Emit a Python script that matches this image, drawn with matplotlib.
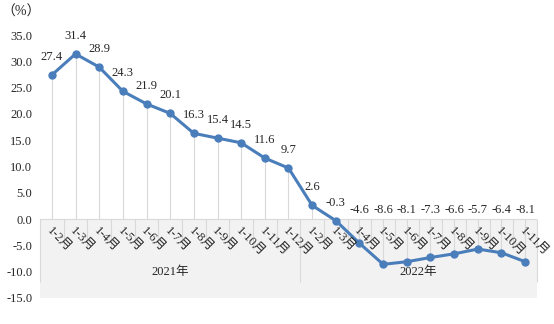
import matplotlib
matplotlib.use("Agg")
import matplotlib.pyplot as plt
import numpy as np

months = ["1-2月", "1-3月", "1-4月", "1-5月", "1-6月", "1-7月", "1-8月", "1-9月",
          "1-10月", "1-11月", "1-12月",
          "1-2月", "1-3月", "1-4月", "1-5月", "1-6月", "1-7月", "1-8月", "1-9月",
          "1-10月", "1-11月"]
values = [27.4, 31.4, 28.9, 24.3, 21.9, 20.1, 16.3, 15.4, 14.5, 11.6, 9.7,
          2.6, -0.3, -4.6, -8.6, -8.1, -7.3, -6.6, -5.7, -6.4, -8.1]
years = ["2021年", "2022年"]
year_counts = [11, 10]
yticks = [35, 30, 25, 20, 15, 10, 5, 0, -5, -10, -15]

FAM = ["Liberation Serif", "Noto Sans CJK SC"]
TXT = "#262626"
plt.rcParams["font.family"] = FAM

W, H = 554, 324
fig = plt.figure(figsize=(W / 100, H / 100), dpi=100)
left, right, top, bottom = 40, 537, 35, 298
ax = fig.add_axes([left / W, (H - bottom) / H, (right - left) / W, (bottom - top) / H])
n = len(values)
x = np.arange(n)
ax.set_xlim(-0.5, n - 0.5)
ax.set_ylim(-15, 35)

for s in ax.spines.values():
    s.set_visible(False)

# lower category band
ax.axhspan(-15, 0, color="#f2f2f2", zorder=0, lw=0)
ax.axhline(0, color="#d9d9d9", lw=0.8, zorder=1)

# drop lines
ax.vlines(x, 0, values, color="#d9d9d9", lw=0.8, zorder=1)

# category separators
bounds = np.cumsum([0] + year_counts) - 0.5
inner = [b for b in np.arange(0.5, n - 0.5, 1.0) if not np.any(np.isclose(b, bounds))]
ax.vlines(inner, -5.7, 0, color="#d9d9d9", lw=0.8, zorder=1, clip_on=False)
ax.vlines(bounds, -11.9, 0, color="#d9d9d9", lw=0.8, zorder=1, clip_on=False)

ax.plot(x, values, color="#4a7ebb", lw=2.2, marker="o", ms=5, zorder=3)

for i, v in enumerate(values):
    if v < -1:
        ax.text(i, 1.8, f"{v:.1f}", ha="center", va="center", fontsize=9, color=TXT)
    else:
        ax.annotate(f"{v:.1f}", (i, v), xytext=(0, 13), textcoords="offset points",
                    ha="center", va="center", fontsize=9, color=TXT)

for i, m in enumerate(months):
    ax.annotate(m, (i, 0), xytext=(-2.5, -7.5), textcoords="offset points",
                rotation=-45, rotation_mode="anchor", ha="left", va="center",
                fontsize=9, color=TXT, family=FAM)

start = 0
for yname, c in zip(years, year_counts):
    ax.text(start + (c - 1) / 2, -10.1, yname, ha="center", va="center",
            fontsize=9, color=TXT, family=FAM)
    start += c

ax.set_xticks([])
ax.set_yticks(yticks)
ax.set_yticklabels([f"{t:.1f}" for t in yticks], fontsize=9, color=TXT)
ax.tick_params(axis="y", length=0, pad=5.5)

fig.text(21.5 / W, 1 - 12.5 / H, "（%）", ha="center", va="center", fontsize=10,
         color=TXT, family=FAM)

fig.savefig("out.png", dpi=100, facecolor="white")
